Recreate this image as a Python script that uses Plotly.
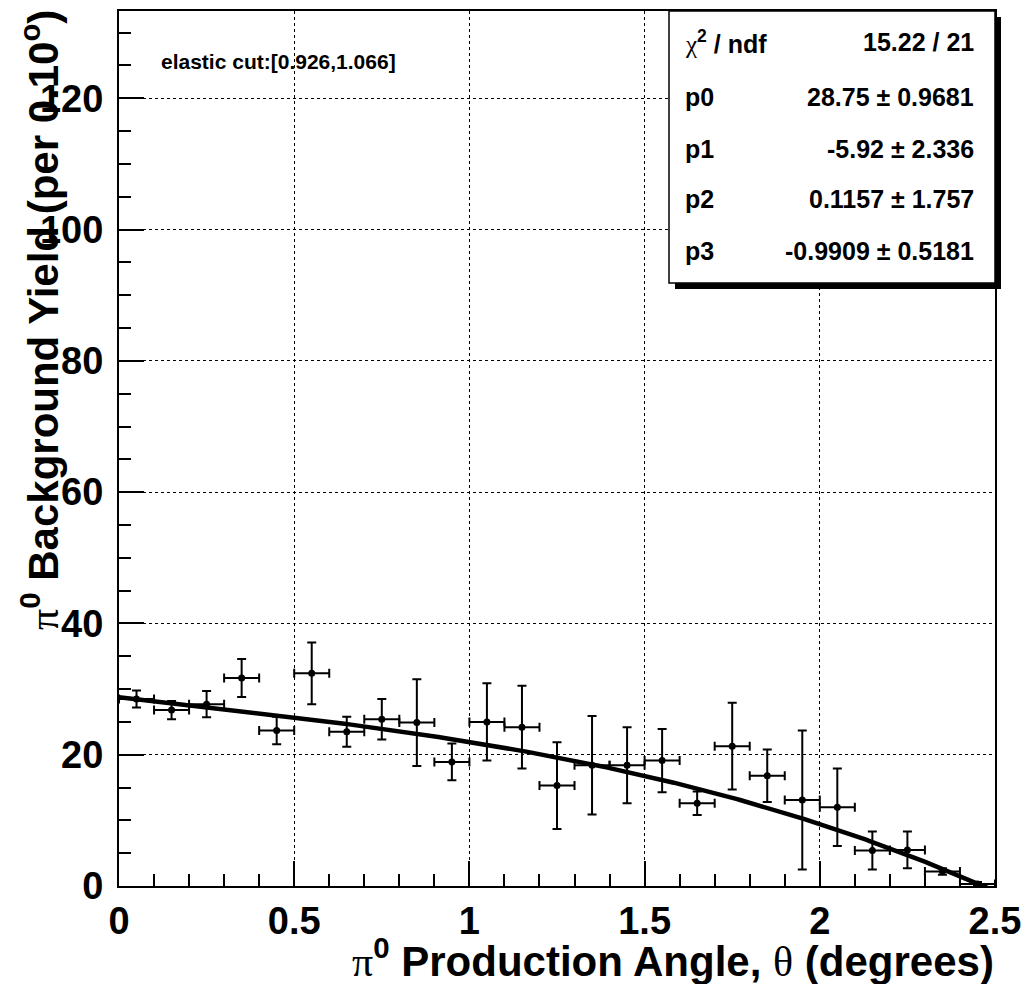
import plotly.graph_objects as go
import numpy as np

# ---- data ----
theta = [0.05, 0.15, 0.25, 0.35, 0.45, 0.55, 0.65, 0.75, 0.85, 0.95,
         1.05, 1.15, 1.25, 1.35, 1.45, 1.55, 1.65, 1.75, 1.85, 1.95,
         2.05, 2.15, 2.25, 2.35, 2.45]
yield_vals = [28.5, 26.8, 27.7, 31.7, 23.7, 32.4, 23.5, 25.4, 24.9, 18.9,
              25.0, 24.2, 15.3, 18.4, 18.4, 19.1, 12.6, 21.3, 16.8, 13.1,
              12.0, 5.4, 5.5, 2.2, 0.3]
yield_err = [1.3, 1.4, 2.0, 2.9, 2.1, 4.7, 2.3, 3.1, 6.6, 2.8,
             5.9, 6.3, 6.6, 7.5, 5.8, 4.8, 1.8, 6.6, 4.0, 10.6,
             5.9, 2.9, 2.8, 0.5, 0.3]
bin_half = [0.05] * len(theta)

# fit parameters shown in the stats box (cubic polynomial)
fit_params = [28.75, -5.92, 0.1157, -0.9909]
chi2_text = "15.22 / 21"
param_names = ["p0", "p1", "p2", "p3"]
param_vals_text = ["28.75", "-5.92", "0.1157", "-0.9909"]
param_errs_text = ["0.9681", "2.336", "1.757", "0.5181"]

x_fit = np.linspace(0, 2.5, 300)
y_fit = sum(c * x_fit ** i for i, c in enumerate(fit_params))

FONT = "Liberation Sans"

fig = go.Figure()
fig.add_trace(go.Scatter(
    x=x_fit, y=y_fit, mode="lines",
    line=dict(color="black", width=4.5), hoverinfo="skip", showlegend=False))
fig.add_trace(go.Scatter(
    x=theta, y=yield_vals, mode="markers",
    marker=dict(color="black", size=7),
    error_y=dict(type="data", array=yield_err, color="black", thickness=2, width=4.5),
    error_x=dict(type="data", array=bin_half, color="black", thickness=2, width=4.5),
    showlegend=False))

axis_common = dict(
    showline=True, linecolor="black", linewidth=2, mirror=True,
    ticks="inside", tickcolor="black", tickwidth=1.5, ticklen=25,
    showgrid=True, gridcolor="black", griddash="dot", gridwidth=1,
    zeroline=False, automargin=False,
    tickfont=dict(family=FONT, size=38, color="black", weight="bold"),
)

fig.update_xaxes(range=[0, 2.5], dtick=0.5, tick0=0,
                 minor=dict(dtick=0.1, ticklen=12, ticks="inside", tickcolor="black",
                            tickwidth=1.5, showgrid=False),
                 ticklabelstandoff=0, **axis_common)
fig.update_yaxes(range=[0, 133.3], dtick=20, tick0=0,
                 minor=dict(dtick=5, ticklen=12, ticks="inside", tickcolor="black",
                            tickwidth=1.5, showgrid=False),
                 ticklabelstandoff=6, **axis_common)

# page offset of the figure (default body margin) and plot-area geometry in page pixels
OFF = 8
FW, FH = 1030 - OFF, 984 - OFF
PL = 119          # page x of plot left
PW = 876
PT = 11           # page y of plot top
PH = 875

def px(xp):
    return (xp - PL) / PW

def py(yp):
    return (PT + PH - yp) / PH

shapes = []
# stats box shadow and box
shapes.append(dict(type="rect", xref="paper", yref="paper",
                   x0=px(675), x1=px(1001), y0=py(289), y1=py(17),
                   fillcolor="black", line=dict(width=0), layer="above"))
shapes.append(dict(type="rect", xref="paper", yref="paper",
                   x0=px(669), x1=px(995), y0=py(283), y1=py(11),
                   fillcolor="white", line=dict(color="black", width=1.5), layer="above"))
fig.update_layout(shapes=shapes)

serif = lambda s: f"<span style='font-family:Liberation Serif;font-weight:normal'>{s}</span>"

ann = []
stat_rows_y = [42, 97, 149, 199, 251]
labels = [serif("χ") + "<sup>2</sup> / ndf"] + param_names
values = [chi2_text] + [f"{v} ± {e}" for v, e in zip(param_vals_text, param_errs_text)]
for yy, lab, val in zip(stat_rows_y, labels, values):
    ann.append(dict(xref="paper", yref="paper", x=px(683), y=py(yy), text=lab,
                    xanchor="left", yanchor="middle", showarrow=False,
                    font=dict(family=FONT, size=25, color="black", weight="bold")))
    ann.append(dict(xref="paper", yref="paper", x=px(976), y=py(yy), text=val,
                    xanchor="right", yanchor="middle", showarrow=False,
                    font=dict(family=FONT, size=25, color="black", weight="bold")))

ann.append(dict(xref="paper", yref="paper", x=px(159), y=py(61),
                text="elastic cut:[0.926,1.066]", xanchor="left", yanchor="middle",
                showarrow=False, font=dict(family=FONT, size=21, color="black", weight="bold")))

# axis titles
ann.append(dict(xref="paper", yref="paper", x=px(996), y=py(958),
                text=serif("π") + "<sup>0</sup> Production Angle, " + serif("θ") + " (degrees)",
                xanchor="right", yanchor="middle", showarrow=False,
                font=dict(family=FONT, size=42, color="black", weight="bold")))
ann.append(dict(xref="paper", yref="paper", x=px(40), y=py(OFF),
                text=serif("π") + "<sup>0</sup> Background Yield (per 0.10<sup>o</sup>)",
                textangle=-90, xanchor="center", yanchor="top", showarrow=False,
                font=dict(family=FONT, size=42, color="black", weight="bold")))
fig.update_layout(annotations=ann)

ml = PL - OFF
mt = PT - OFF
fig.update_layout(
    width=FW, height=FH,
    margin=dict(l=ml, r=FW - ml - PW, t=mt, b=FH - mt - PH, autoexpand=False),
    paper_bgcolor="white", plot_bgcolor="white",
    showlegend=False,
)

fig.write_html("out.html")
